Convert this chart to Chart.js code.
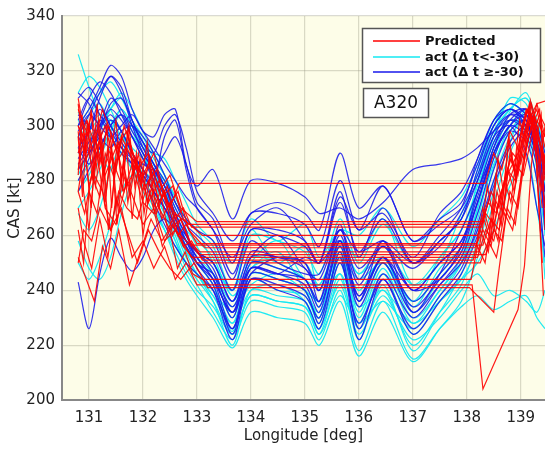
<!DOCTYPE html>
<html>
<head>
<meta charset="utf-8">
<script src="https://cdn.jsdelivr.net/npm/chart.js@4/dist/chart.umd.min.js"></script>
<style>
html,body{margin:0;padding:0;background:#fff;}
#wrap{width:545px;height:449px;}
</style>
</head>
<body>
<div id="wrap"><canvas id="c" width="545" height="449"></canvas></div>
<script>
// ---- data ----
const xTicks = [131, 132, 133, 134, 135, 136, 137, 138, 139];
const yTicks = [200, 220, 240, 260, 280, 300, 320, 340];
const legendLabels = ['Predicted', 'act (\u0394 t<-30)', 'act (\u0394 t \u2265-30)'];
const boxLabel = 'A320';

// shared longitude grid of the actual tracks
const actLon = [130.8, 131.0, 131.2, 131.4, 131.6, 131.8, 132.0, 132.2, 132.4, 132.6, 132.8, 133.0, 133.3, 133.66, 134.0, 134.5, 135.0, 135.27, 135.65, 136.0, 136.45, 137.0, 137.5, 137.9, 138.2, 138.5, 138.8, 139.1, 139.3, 139.45];

const cyanCas = [
  [326, 314, 304, 300, 296, 290, 284, 278, 272, 264, 256, 250, 242, 225, 246, 244, 240, 230, 254, 232, 250, 230, 240, 252, 270, 292, 305, 312, 300, 285],
  [258, 248, 244, 252, 268, 280, 286, 282, 274, 262, 252, 246, 236, 220, 240, 238, 236, 226, 246, 222, 242, 218, 232, 246, 262, 285, 300, 306, 296, 280],
  [290, 296, 300, 306, 310, 302, 294, 286, 280, 270, 262, 258, 252, 238, 248, 254, 240, 232, 252, 244, 250, 236, 252, 262, 276, 294, 302, 298, 290, 275],
  [282, 290, 296, 302, 298, 290, 282, 276, 268, 258, 248, 242, 232, 222, 236, 234, 232, 222, 240, 218, 236, 215, 226, 234, 238, 233, 236, 238, 230, 226],
  [300, 306, 312, 316, 310, 302, 296, 288, 282, 274, 266, 262, 250, 240, 262, 250, 256, 240, 258, 252, 266, 242, 250, 268, 282, 300, 308, 304, 296, 280],
  [276, 282, 290, 298, 304, 298, 290, 280, 270, 260, 250, 246, 238, 226, 244, 240, 238, 228, 250, 228, 246, 224, 236, 244, 250, 262, 278, 290, 270, 250],
  [296, 300, 304, 302, 296, 290, 284, 280, 276, 268, 258, 252, 246, 230, 250, 248, 244, 234, 256, 236, 252, 232, 244, 254, 268, 286, 298, 304, 294, 278],
  [270, 276, 284, 292, 296, 290, 282, 272, 262, 252, 244, 238, 230, 219, 232, 230, 228, 220, 236, 216, 232, 214, 226, 236, 252, 272, 290, 300, 292, 270],
  [302, 296, 292, 298, 306, 300, 292, 290, 288, 280, 272, 264, 258, 250, 266, 258, 264, 252, 262, 260, 270, 256, 266, 274, 286, 302, 308, 304, 298, 284],
  [250, 244, 252, 264, 276, 282, 280, 274, 266, 258, 250, 244, 236, 224, 238, 236, 234, 224, 244, 226, 240, 220, 232, 242, 258, 280, 296, 302, 288, 272],
  [284, 290, 298, 306, 312, 306, 298, 290, 282, 272, 264, 256, 246, 234, 250, 258, 244, 242, 256, 246, 252, 234, 248, 256, 280, 298, 306, 310, 300, 288],
  [292, 298, 302, 296, 290, 284, 276, 268, 262, 254, 246, 240, 234, 224, 238, 236, 234, 226, 242, 224, 238, 222, 230, 240, 246, 238, 240, 236, 232, 240],
  [280, 286, 292, 300, 306, 300, 294, 286, 278, 266, 256, 250, 242, 228, 246, 244, 240, 230, 252, 230, 248, 228, 240, 250, 266, 288, 300, 296, 280, 262],
  [312, 318, 314, 306, 298, 292, 288, 284, 280, 274, 266, 262, 256, 240, 260, 258, 254, 246, 266, 250, 264, 250, 258, 266, 284, 300, 306, 300, 292, 276],
  [286, 280, 288, 296, 292, 284, 278, 270, 262, 256, 250, 246, 240, 232, 242, 246, 240, 236, 246, 234, 240, 228, 236, 244, 256, 276, 294, 306, 300, 292],
  [296, 304, 308, 300, 294, 288, 282, 276, 268, 262, 254, 250, 246, 236, 248, 252, 250, 242, 258, 246, 256, 242, 252, 262, 278, 296, 310, 308, 296, 260],
  [268, 262, 270, 284, 294, 300, 294, 284, 274, 264, 254, 246, 238, 228, 240, 242, 236, 224, 238, 228, 236, 226, 238, 250, 270, 290, 302, 298, 284, 244],
  [305, 298, 290, 284, 290, 296, 290, 282, 276, 266, 258, 254, 250, 240, 252, 250, 244, 236, 254, 240, 252, 236, 246, 256, 276, 296, 306, 310, 302, 290]
];

const blueCas = [
  [300, 306, 314, 322, 318, 306, 298, 296, 304, 306, 286, 278, 284, 266, 280, 279, 274, 268, 270, 266, 272, 284, 286, 288, 292, 298, 302, 298, 290, 282],
  [290, 298, 310, 318, 314, 302, 294, 290, 300, 304, 292, 276, 268, 258, 268, 272, 268, 262, 290, 270, 278, 258, 264, 270, 282, 298, 304, 300, 292, 284],
  [312, 308, 300, 304, 298, 290, 284, 280, 296, 302, 284, 270, 262, 246, 262, 262, 258, 250, 276, 252, 270, 250, 258, 266, 284, 300, 306, 300, 290, 272],
  [243, 226, 246, 259, 252, 247, 252, 262, 266, 262, 258, 254, 246, 230, 250, 248, 244, 236, 258, 238, 252, 236, 246, 256, 272, 290, 300, 304, 294, 276],
  [296, 304, 312, 318, 312, 300, 290, 284, 278, 268, 260, 252, 244, 232, 246, 252, 250, 236, 264, 236, 258, 232, 246, 262, 276, 294, 302, 300, 294, 282],
  [280, 288, 298, 308, 310, 302, 292, 284, 276, 266, 258, 252, 244, 226, 248, 246, 242, 232, 258, 236, 252, 234, 244, 254, 272, 290, 300, 306, 298, 284],
  [304, 300, 296, 292, 298, 300, 296, 290, 282, 272, 264, 260, 254, 240, 258, 250, 246, 246, 262, 248, 256, 248, 258, 266, 280, 296, 304, 302, 290, 276],
  [286, 292, 302, 296, 290, 286, 282, 276, 270, 262, 256, 250, 242, 224, 246, 244, 240, 228, 254, 226, 246, 230, 242, 252, 268, 288, 300, 296, 286, 270],
  [292, 298, 306, 300, 292, 286, 280, 272, 264, 256, 250, 246, 240, 226, 244, 242, 238, 230, 252, 222, 244, 226, 238, 248, 264, 284, 298, 302, 292, 276],
  [298, 304, 300, 296, 300, 304, 298, 292, 286, 280, 274, 270, 262, 252, 264, 270, 258, 250, 274, 262, 268, 252, 268, 276, 288, 302, 308, 304, 296, 288],
  [310, 314, 308, 300, 294, 288, 282, 276, 270, 264, 258, 254, 250, 236, 254, 252, 250, 240, 262, 244, 258, 240, 250, 258, 274, 292, 302, 306, 300, 290],
  [276, 284, 292, 300, 304, 296, 288, 282, 274, 266, 258, 250, 244, 232, 248, 246, 244, 234, 256, 234, 250, 232, 242, 250, 262, 280, 294, 300, 292, 262],
  [302, 310, 304, 298, 292, 288, 286, 284, 290, 296, 286, 272, 266, 250, 268, 268, 264, 256, 280, 262, 278, 258, 266, 272, 286, 300, 306, 302, 294, 284],
  [288, 294, 300, 306, 302, 296, 288, 280, 272, 264, 256, 248, 240, 222, 244, 240, 236, 226, 250, 228, 244, 224, 236, 246, 260, 278, 292, 298, 288, 272],
  [284, 290, 296, 302, 298, 290, 284, 276, 270, 264, 260, 254, 250, 236, 252, 260, 248, 244, 262, 254, 258, 250, 256, 268, 280, 296, 300, 290, 270, 256],
  [296, 290, 300, 310, 306, 298, 292, 286, 280, 272, 266, 262, 258, 244, 262, 260, 256, 250, 272, 254, 266, 250, 260, 270, 288, 302, 306, 302, 290, 266],
  [300, 310, 316, 312, 304, 296, 290, 284, 278, 270, 262, 250, 246, 234, 248, 246, 252, 250, 258, 238, 252, 240, 244, 256, 276, 290, 298, 294, 280, 252],
  [292, 286, 292, 300, 304, 300, 294, 286, 278, 268, 260, 254, 248, 232, 252, 252, 248, 240, 260, 242, 256, 240, 250, 258, 272, 292, 304, 306, 298, 286]
];

const predLon = [
  [130.8, 130.95, 131.1, 131.3, 131.5, 131.7, 131.9, 132.1, 132.3, 132.5, 132.67, 138.34, 138.5, 138.65, 138.8, 138.95, 139.1, 139.25, 139.45],
  [130.8, 130.92, 131.05, 131.2, 131.35, 131.5, 131.7, 131.9, 132.1, 132.3, 132.5, 132.7, 133.0, 138.3, 138.45, 138.6, 138.8, 138.95, 139.1, 139.3, 139.45],
  [130.8, 130.9, 131.0, 131.15, 131.3, 131.45, 131.6, 131.8, 132.0, 132.2, 132.4, 132.6, 132.85, 138.25, 138.4, 138.55, 138.75, 138.9, 139.05, 139.2, 139.4],
  [130.8, 130.95, 131.1, 131.25, 131.4, 131.55, 131.75, 131.95, 132.15, 132.35, 132.55, 132.75, 133.1, 138.2, 138.35, 138.5, 138.7, 138.85, 139.0, 139.15, 139.3, 139.45],
  [130.8, 130.9, 131.05, 131.2, 131.4, 131.55, 131.7, 131.9, 132.1, 132.3, 132.5, 132.7, 132.9, 138.3, 138.45, 138.6, 138.75, 138.9, 139.05, 139.2, 139.35, 139.45],
  [130.8, 130.92, 131.05, 131.2, 131.35, 131.5, 131.65, 131.85, 132.05, 132.25, 132.45, 132.65, 132.85, 133.15, 138.15, 138.3, 138.45, 138.6, 138.8, 139.0, 139.2, 139.3, 139.45],
  [130.8, 130.95, 131.1, 131.3, 131.5, 131.65, 131.8, 132.0, 132.2, 132.4, 132.6, 132.8, 133.05, 138.35, 138.5, 138.65, 138.8, 138.95, 139.1, 139.25, 139.42],
  [130.8, 130.9, 131.0, 131.15, 131.3, 131.5, 131.7, 131.85, 132.0, 132.2, 132.4, 132.6, 132.9, 138.2, 138.35, 138.5, 138.65, 138.8, 138.95, 139.1, 139.25, 139.45],
  [130.8, 130.95, 131.1, 131.25, 131.4, 131.6, 131.8, 132.0, 132.2, 132.4, 132.6, 132.8, 133.0, 138.1, 138.3, 138.95, 139.07, 139.2, 139.3, 139.45],
  [130.8, 130.9, 131.05, 131.2, 131.35, 131.5, 131.7, 131.9, 132.1, 132.3, 132.5, 132.7, 132.95, 133.2, 138.05, 138.5, 138.6, 138.75, 138.9, 139.05, 139.2, 139.35, 139.45],
  [130.8, 130.95, 131.1, 131.25, 131.4, 131.55, 131.75, 131.95, 132.15, 132.35, 132.55, 132.75, 133.0, 138.25, 138.4, 138.55, 138.7, 138.85, 139.0, 139.15, 139.3, 139.45],
  [130.8, 130.88, 130.97, 131.06, 131.15, 131.24, 131.33, 131.42, 131.52, 131.62, 131.72, 131.82, 131.92, 132.02, 132.15, 132.3, 132.45, 132.6, 132.75, 132.9, 138.28, 138.38, 138.48, 138.58, 138.68, 138.78, 138.88, 138.98, 139.08, 139.18, 139.28, 139.38, 139.45],
  [130.8, 130.87, 130.95, 131.04, 131.13, 131.22, 131.32, 131.42, 131.52, 131.63, 131.74, 131.85, 131.96, 132.08, 132.2, 132.35, 132.5, 132.65, 132.8, 133.0, 138.18, 138.3, 138.42, 138.54, 138.66, 138.78, 138.9, 139.02, 139.14, 139.26, 139.38, 139.45],
  [130.8, 130.9, 131.0, 131.1, 131.2, 131.3, 131.4, 131.5, 131.6, 131.7, 131.8, 131.9, 132.0, 132.12, 132.25, 132.4, 132.55, 132.7, 132.85, 133.05, 138.22, 138.32, 138.44, 138.56, 138.68, 138.8, 138.92, 139.04, 139.16, 139.28, 139.4],
  [130.8, 130.9, 131.0, 131.12, 131.24, 131.36, 131.48, 131.6, 131.72, 131.84, 131.96, 132.08, 132.2, 132.32, 132.46, 132.6, 132.75, 132.9, 133.1, 138.12, 138.25, 138.4, 138.52, 138.64, 138.76, 138.88, 139.0, 139.12, 139.24, 139.36, 139.45],
  [130.8, 130.92, 131.04, 131.16, 131.28, 131.4, 131.52, 131.64, 131.76, 131.88, 132.0, 132.12, 132.24, 132.36, 132.5, 132.64, 132.78, 132.92, 133.1, 138.08, 138.2, 138.34, 138.46, 138.58, 138.7, 138.82, 138.94, 139.06, 139.18, 139.3, 139.45]
];
const predCas = [
  [300, 288, 296, 282, 292, 278, 286, 272, 280, 270, 279, 279, 290, 284, 298, 292, 306, 300, 288],
  [310, 296, 304, 286, 300, 292, 298, 284, 290, 276, 282, 270, 265, 265, 276, 270, 288, 282, 300, 308, 296],
  [262, 250, 276, 268, 290, 282, 296, 288, 282, 290, 274, 268, 264, 264, 272, 268, 284, 280, 296, 304, 270],
  [290, 302, 294, 306, 298, 288, 294, 280, 286, 274, 278, 266, 260, 260, 268, 264, 280, 290, 286, 300, 306, 292],
  [250, 262, 258, 270, 262, 276, 270, 266, 280, 270, 262, 266, 256.5, 256.5, 266, 262, 278, 286, 282, 296, 304, 300],
  [276, 268, 282, 274, 292, 284, 300, 288, 278, 284, 270, 276, 262, 255.5, 255.5, 262, 256, 274, 284, 292, 308, 300, 280],
  [306, 298, 290, 300, 284, 276, 286, 272, 268, 276, 262, 258, 253, 253, 262, 258, 276, 270, 292, 304, 238],
  [284, 296, 278, 290, 270, 264, 280, 272, 264, 270, 258, 262, 252, 252, 262, 258, 272, 266, 284, 298, 304, 286],
  [300, 294, 282, 276, 262, 270, 252, 258, 248, 256, 244, 250, 242, 242, 204, 233, 249, 286, 302, 296],
  [270, 258, 248, 266, 252, 274, 262, 250, 262, 254, 248, 244, 250, 241, 241, 232, 248, 270, 264, 288, 300, 306, 282],
  [252, 244, 236, 256, 248, 262, 242, 254, 266, 258, 264, 256, 250, 250, 258, 252, 268, 262, 280, 296, 308, 309, 270],
  [296, 274, 302, 280, 308, 288, 300, 270, 294, 276, 298, 282, 290, 268, 284, 272, 278, 266, 270, 263, 263, 278, 268, 288, 276, 296, 284, 302, 294, 309, 298, 276, 290],
  [282, 304, 290, 306, 284, 298, 276, 292, 270, 286, 300, 278, 288, 272, 280, 266, 272, 260, 264, 257, 257, 270, 262, 282, 272, 294, 282, 300, 306, 292, 304, 262],
  [298, 276, 262, 284, 296, 272, 290, 302, 280, 292, 266, 284, 276, 288, 268, 276, 260, 266, 258, 254, 254, 266, 258, 276, 268, 290, 280, 298, 308, 290, 250],
  [308, 290, 300, 278, 294, 262, 282, 296, 272, 288, 278, 294, 270, 276, 262, 268, 256, 258, 251, 251, 262, 254, 272, 264, 284, 276, 296, 306, 300, 286, 300],
  [276, 292, 270, 300, 282, 296, 264, 286, 274, 290, 260, 276, 266, 256, 262, 248, 254, 246, 244, 244, 256, 250, 266, 258, 280, 272, 292, 288, 304, 296, 270]
];

// ---- chart ----
const toPts = (xs, ys) => xs.map((x, i) => ({x: x, y: ys[i]}));
const datasets = [];
cyanCas.forEach(row => datasets.push({
  data: toPts(actLon, row), borderColor: 'rgba(20,232,242,0.95)', borderWidth: 1.2,
  pointRadius: 0, tension: 0.3, order: 3
}));
blueCas.forEach(row => datasets.push({
  data: toPts(actLon, row), borderColor: 'rgba(25,25,235,0.88)', borderWidth: 1.2,
  pointRadius: 0, tension: 0.3, order: 2
}));
predLon.forEach((xs, k) => datasets.push({
  data: toPts(xs, predCas[k]), borderColor: 'rgba(255,0,0,0.9)', borderWidth: 1.2,
  pointRadius: 0, tension: 0, order: 1
}));

const bgPlugin = {
  id: 'bg',
  beforeDraw(chart) {
    const {ctx, chartArea: a} = chart;
    ctx.save();
    ctx.fillStyle = '#fdfde8';
    ctx.fillRect(a.left, a.top, a.right - a.left, a.bottom - a.top);
    ctx.restore();
  }
};

const boxPlugin = {
  id: 'boxes',
  afterDraw(chart) {
    const ctx = chart.ctx;
    ctx.save();
    // legend box
    ctx.fillStyle = '#ffffff';
    ctx.fillRect(362, 28, 178, 54);
    ctx.strokeStyle = '#555';
    ctx.lineWidth = 1.5;
    ctx.strokeRect(362.5, 28.5, 178, 54);
    const cols = ['rgb(255,0,0)', 'rgb(20,232,242)', 'rgb(25,25,235)'];
    const ys = [41, 57, 72];
    ctx.font = 'bold 13px "DejaVu Sans", sans-serif';
    ctx.textBaseline = 'middle';
    ctx.textAlign = 'left';
    legendLabels.forEach((t, i) => {
      ctx.strokeStyle = cols[i];
      ctx.lineWidth = 1.3;
      ctx.beginPath();
      ctx.moveTo(373, ys[i]);
      ctx.lineTo(420, ys[i]);
      ctx.stroke();
      ctx.fillStyle = '#111';
      ctx.fillText(t, 425, ys[i] + 1);
    });
    // A320 box
    ctx.fillStyle = '#ffffff';
    ctx.fillRect(363, 88, 65, 29);
    ctx.strokeStyle = '#555';
    ctx.lineWidth = 1.5;
    ctx.strokeRect(363.5, 88.5, 65, 29);
    ctx.fillStyle = '#111';
    ctx.font = '17px "DejaVu Sans", sans-serif';
    ctx.textAlign = 'center';
    ctx.fillText(boxLabel, 396, 103.5);
    ctx.restore();
  }
};

new Chart(document.getElementById('c'), {
  type: 'line',
  data: {datasets},
  plugins: [bgPlugin, boxPlugin],
  options: {
    responsive: false,
    animation: false,
    layout: {padding: {top: 16, right: 0, left: 0, bottom: 0}},
    plugins: {legend: {display: false}, tooltip: {enabled: false}},
    scales: {
      x: {
        type: 'linear', min: 130.5, max: 139.45,
        afterBuildTicks: s => { s.ticks = xTicks.map(v => ({value: v})); },
        afterFit: s => { s.height = 49; },
        grid: {color: 'rgba(150,150,130,0.35)', lineWidth: 1.2, drawTicks: false},
        border: {display: true, color: '#888', width: 2},
        ticks: {color: '#222', font: {family: 'DejaVu Sans', size: 15}, padding: 9, maxRotation: 0},
        title: {display: true, text: 'Longitude [deg]', color: '#222',
                font: {family: 'DejaVu Sans', size: 15}, padding: {top: 0, bottom: 4}}
      },
      y: {
        type: 'linear', min: 200, max: 340,
        afterBuildTicks: s => { s.ticks = yTicks.map(v => ({value: v})); },
        afterFit: s => { s.width = 62; },
        grid: {color: 'rgba(150,150,130,0.35)', lineWidth: 1.2, drawTicks: false},
        border: {display: true, color: '#888', width: 2},
        ticks: {color: '#222', font: {family: 'DejaVu Sans', size: 15}, padding: 7},
        title: {display: true, text: 'CAS [kt]', color: '#222',
                font: {family: 'DejaVu Sans', size: 15}, padding: {top: 6, bottom: 0}}
      }
    }
  }
});
</script>
</body>
</html>
